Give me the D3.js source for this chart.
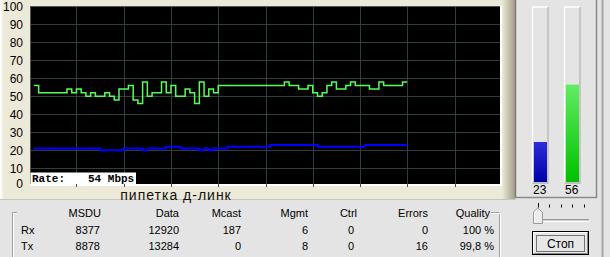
<!DOCTYPE html>
<html><head><meta charset="utf-8">
<script src="https://cdn.jsdelivr.net/npm/d3@7"></script>
<style>html,body{margin:0;padding:0;background:#e4e4e4;overflow:hidden}svg{display:block}</style>
</head><body><svg id="c" width="610" height="257"></svg>
<script>
// ---------- data ----------
const sampleStart = 1;
const greenSeries = [56, 52,52,52,52,52,52, 54, 52, 54, 52, 50, 52, 50,50, 52, 50, 48, 54,54, 56, 48, 46, 58, 50, 52,52, 58, 52, 56, 50,50, 54, 52, 46, 58, 50, 54, 52,
  56,56,56,56,56,56,56,56,56,56,56,56,56,56, 58, 56,56, 54,54, 56, 52, 50, 52, 56, 58, 54,54, 56, 58, 56,56,56, 54,54, 58, 56,56,56,56, 58];
const blueSeries = [21,21,21,21,21,21,21,21,21,21,21,21,21,21, 20,20,20,20,20, 21,21,21,21, 20, 21,21,21,21, 22,22,22, 21,21,21,21, 20, 21, 20, 21,21,21,
  22,22,22,22,22,22,22,22,22, 23,23,23,23,23,23,23,23,23,23, 22,22,22,22,22,22,22,22,22,22, 23,23,23,23,23,23,23,23,23];
const yTicks = [0,10,20,30,40,50,60,70,80,90,100];
const xGridTicks = [10,20,30,40,50,60,70,80,90];
const rateLabel = "Rate:";
const rateValue = "54 Mbps";
const chartTitle = "пипетка д-линк";
const meterValues = [23, 56];
const tableColumns = ["MSDU","Data","Mcast","Mgmt","Ctrl","Errors","Quality"];
const tableRows = ["Rx","Tx"];
const rxStats = ["8377","12920","187","6","0","0","100 %"];
const txStats = ["8878","13284","0","8","0","16","99,8 %"];
const buttonLabel = "Стоп";

// ---------- drawing ----------
const svg = d3.select("#c");
const defs = svg.append("defs");
const FONT = "'Liberation Sans', Arial, sans-serif";

// backgrounds
svg.append("rect").attr("x",0).attr("y",0).attr("width",610).attr("height",257).attr("fill","#e4e4e4");
svg.append("rect").attr("x",0).attr("y",0).attr("width",516).attr("height",199).attr("fill","#ece9d8");
const gR = defs.append("linearGradient").attr("id","gR").attr("x1","0").attr("x2","1");
gR.append("stop").attr("offset","0").attr("stop-color","#ece9d8");
gR.append("stop").attr("offset","1").attr("stop-color","#a39d88");
svg.append("rect").attr("x",502).attr("y",0).attr("width",13).attr("height",199).attr("fill","url(#gR)");
const gL = defs.append("linearGradient").attr("id","gL").attr("x1","0").attr("x2","1");
gL.append("stop").attr("offset","0").attr("stop-color","#ffffff");
gL.append("stop").attr("offset","1").attr("stop-color","#ece9d8");
svg.append("rect").attr("x",0).attr("y",0).attr("width",4).attr("height",199).attr("fill","url(#gL)");
svg.append("line").attr("x1",0).attr("x2",516).attr("y1",199.5).attr("y2",199.5).attr("stroke","#c9c5b6");

// scales
const x = d3.scaleLinear().domain([0,100]).range([29.2, 501.8]);
const y = d3.scaleLinear().domain([0,100]).range([186.3, 6.3]);
const PL = 30, PR = 500, PT = 6, PB = 184;

// plot background
svg.append("rect").attr("x",PL).attr("y",PT).attr("width",PR-PL).attr("height",PB-PT).attr("fill","#000");
defs.append("clipPath").attr("id","clip").append("rect").attr("x",PL).attr("y",PT).attr("width",PR-PL).attr("height",PB-PT);

// grid
const grid = svg.append("g");
grid.selectAll("line.h").data(yTicks.filter(t => y(t) > PT && y(t) < PB)).join("line")
  .attr("x1",PL).attr("x2",PR)
  .attr("y1",d => Math.round(y(d))+0.5).attr("y2",d => Math.round(y(d))+0.5)
  .attr("stroke","#2f3e3e");
grid.selectAll("line.v").data(xGridTicks).join("line")
  .attr("x1",d => Math.round(x(d))+0.5).attr("x2",d => Math.round(x(d))+0.5)
  .attr("y1",PT).attr("y2",PB+3)
  .attr("stroke","#2f3e3e");

// lines
const toPts = arr => { const p = arr.map((v,i)=>[sampleStart+i, v]); p.push([sampleStart+arr.length, arr[arr.length-1]]); return p; };
const line = d3.line().x(d=>x(d[0])).y(d=>y(d[1])).curve(d3.curveStepAfter);
const lg = svg.append("g").attr("clip-path","url(#clip)");
lg.append("path").attr("d", line(toPts(blueSeries))).attr("fill","none").attr("stroke","#0000ff").attr("stroke-width",2);
lg.append("path").attr("d", line(toPts(greenSeries))).attr("fill","none").attr("stroke","#55ff55").attr("stroke-width",1.5);

// plot borders
svg.append("line").attr("x1",PL).attr("x2",PR).attr("y1",PT+0.5).attr("y2",PT+0.5).attr("stroke","#555");
svg.append("line").attr("x1",PL+0.5).attr("x2",PL+0.5).attr("y1",PT).attr("y2",PB).attr("stroke","#555");
svg.append("rect").attr("x",PR).attr("y",PT).attr("width",2).attr("height",PB-PT+2).attr("fill","#fff");
svg.append("rect").attr("x",PL).attr("y",PB).attr("width",PR-PL+2).attr("height",2).attr("fill","#fff");
svg.selectAll("line.tk").data(xGridTicks).join("line")
  .attr("x1",d => Math.round(x(d))+0.5).attr("x2",d => Math.round(x(d))+0.5)
  .attr("y1",PB).attr("y2",PB+3).attr("stroke","#4a4a4a");

// rate box
svg.append("rect").attr("x",30.5).attr("y",172.5).attr("width",105.5).attr("height",11.5).attr("fill","#fff");
svg.append("text").attr("x",32).attr("y",182).text(rateLabel)
  .attr("font-family","'Liberation Mono', 'Courier New', monospace").attr("font-weight","bold").attr("font-size",11).attr("fill","#000");
svg.append("text").attr("x",88).attr("y",182).text(rateValue)
  .attr("font-family","'Liberation Mono', 'Courier New', monospace").attr("font-weight","bold").attr("font-size",11).attr("fill","#000");

// y axis
const ya = svg.append("g").attr("transform",`translate(${PL},0)`)
  .call(d3.axisLeft(y).tickValues(yTicks).tickSize(0).tickPadding(7));
ya.select(".domain").remove();
ya.selectAll("text").attr("font-family",FONT).attr("font-size",12).attr("fill","#000");
ya.selectAll(".tick").filter(d => d === 0).select("text").attr("dy","0.1em");

// title
svg.append("text").attr("x",176).attr("y",200).attr("text-anchor","middle")
  .attr("font-family",FONT).attr("font-size",14).attr("letter-spacing",1).attr("fill","#111").text(chartTitle);

// right panel
svg.append("rect").attr("x",516).attr("y",0).attr("width",80).attr("height",197).attr("fill","#e4e4e4");
svg.append("line").attr("x1",515.5).attr("x2",515.5).attr("y1",0).attr("y2",198).attr("stroke","#7d7d7d").attr("stroke-width",1.5);
svg.append("line").attr("x1",596.5).attr("x2",596.5).attr("y1",0).attr("y2",198).attr("stroke","#8a8a8a").attr("stroke-width",1.5);
svg.append("line").attr("x1",515).attr("x2",597).attr("y1",197.5).attr("y2",197.5).attr("stroke","#8a8a8a").attr("stroke-width",1.5);
svg.append("line").attr("x1",602.5).attr("x2",602.5).attr("y1",0).attr("y2",257).attr("stroke","#a6a6a6").attr("stroke-width",2);

// meters
const meterScale = d3.scaleLinear().domain([0,100]).range([182, 8]);
const meterX = [532.5, 564.5];
const meterColors = [["#2e2ed8","#0000aa"],["#62ec62","#00c000"]];
meterValues.forEach((v,i) => {
  const g = defs.append("linearGradient").attr("id","m"+i).attr("x1","0").attr("x2","0").attr("y1","0").attr("y2","1");
  g.append("stop").attr("offset","0").attr("stop-color",meterColors[i][0]);
  g.append("stop").attr("offset","1").attr("stop-color",meterColors[i][1]);
  const mx = meterX[i];
  svg.append("rect").attr("x",mx).attr("y",7).attr("width",15.5).attr("height",176).attr("fill","#e4e4e4");
  svg.append("path").attr("d",`M${mx},183 V7 H${mx+15.5}`).attr("fill","none").attr("stroke","#fff").attr("stroke-width",1.3);
  svg.append("path").attr("d",`M${mx+15.5},7 V183 H${mx}`).attr("fill","none").attr("stroke","#b4b4b4").attr("stroke-width",1.3);
  svg.append("rect").attr("x",mx+1.3).attr("y",meterScale(v)).attr("width",13.2).attr("height",182-meterScale(v)).attr("fill",`url(#m${i})`);
  svg.append("text").attr("x",mx+7.3).attr("y",194).attr("text-anchor","middle")
    .attr("font-family",FONT).attr("font-size",12).attr("fill","#000").text(v);
});

// slider
const sliderTicks = [537.7, 549.3, 560.7, 572, 583.7];
svg.selectAll("line.st").data(sliderTicks).join("line")
  .attr("x1",d=>Math.round(d)+0.5).attr("x2",d=>Math.round(d)+0.5)
  .attr("y1",(d,i)=> i===0 ? 203 : 204.5).attr("y2",207.5).attr("stroke","#000");
svg.append("line").attr("x1",541).attr("x2",589).attr("y1",219.5).attr("y2",219.5).attr("stroke","#9a9a9a");
svg.append("line").attr("x1",541).attr("x2",589).attr("y1",220.5).attr("y2",220.5).attr("stroke","#cfcfcf");
svg.append("line").attr("x1",541).attr("x2",589).attr("y1",221.5).attr("y2",221.5).attr("stroke","#ffffff");
svg.append("path").attr("d","M533.5,223.5 V212 L537.7,208 L542.5,212.5 V223.5 Z").attr("fill","#ececec").attr("stroke","#9a9a9a");
svg.append("path").attr("d","M534.5,222.5 V212.5 L537.7,209.5").attr("fill","none").attr("stroke","#fff");

// button
svg.append("rect").attr("x",532.5).attr("y",231.5).attr("width",56).attr("height",23).attr("fill","#e6e6e6").attr("stroke","#000");
svg.append("path").attr("d","M533.5,253 V232.5 H587").attr("fill","none").attr("stroke","#fff");
svg.append("path").attr("d","M587.5,232.5 V253.5 H533.5").attr("fill","none").attr("stroke","#888");
svg.append("rect").attr("x",536.5).attr("y",235.5).attr("width",48).attr("height",16).attr("fill","none")
  .attr("stroke","#000").attr("stroke-dasharray","1,1");
svg.append("text").attr("x",560.5).attr("y",247.5).attr("text-anchor","middle")
  .attr("font-family",FONT).attr("font-size",12).attr("fill","#000").text(buttonLabel);

// group box
const gb = svg.append("g");
gb.append("path").attr("d","M17,212.5 H12.5 V257").attr("fill","none").attr("stroke","#a0a0a0");
gb.append("path").attr("d","M17,213.5 H13.5 V257").attr("fill","none").attr("stroke","#fff");
gb.append("path").attr("d","M491,212.5 H499.5 V257").attr("fill","none").attr("stroke","#a0a0a0");
gb.append("path").attr("d","M491,213.5 H500.5 V257").attr("fill","none").attr("stroke","#fff");

// table
const headerRight = [101, 179, 241, 308, 357, 428, 490];
const valueRight = [100, 179, 241, 308, 354, 428, 494];
const tf = s => s.attr("font-family",FONT).attr("font-size",11).attr("fill","#000").attr("text-anchor","end");
svg.append("g").selectAll("text").data(tableColumns).join("text")
  .attr("x",(d,i)=>headerRight[i]).attr("y",217).text(d=>d).call(tf);
[rxStats, txStats].forEach((row, r) => {
  const yy = 234 + r*15.7;
  svg.append("text").attr("x",21).attr("y",yy).text(tableRows[r])
    .attr("font-family",FONT).attr("font-size",11).attr("fill","#000");
  svg.append("g").selectAll("text").data(row).join("text")
    .attr("x",(d,i)=>valueRight[i]).attr("y",yy).text(d=>d).call(tf);
});
</script></body></html>
